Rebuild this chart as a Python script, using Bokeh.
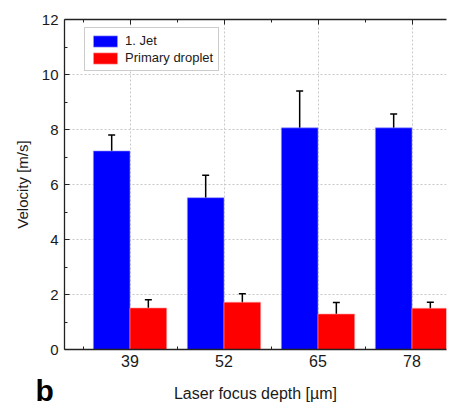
from bokeh.plotting import figure
from bokeh.models import (ColumnDataSource, Range1d, FixedTicker, LinearAxis, Whisker,
                          TeeHead, Legend, LegendItem, Label, CustomLabelingPolicy)
from bokeh.embed import file_html
from bokeh.resources import INLINE

# ---- data ----
depths = ["39", "52", "65", "78"]
jet = [7.22, 5.52, 8.06, 8.06]
jet_err = [0.58, 0.82, 1.34, 0.50]
droplet = [1.51, 1.72, 1.29, 1.50]
droplet_err = [0.30, 0.31, 0.42, 0.22]
y_ticks = [0, 2, 4, 6, 8, 10, 12]

FONT = "Liberation Sans"
TXT = "#1a1a1a"

pos = list(range(1, len(depths) + 1))
bw = 0.39
src_jet = ColumnDataSource(dict(
    x=[p - bw / 2 for p in pos], top=jet,
    upper=[v + e for v, e in zip(jet, jet_err)],
    lower=[v - e for v, e in zip(jet, jet_err)]))
src_drop = ColumnDataSource(dict(
    x=[p + bw / 2 for p in pos], top=droplet,
    upper=[v + e for v, e in zip(droplet, droplet_err)],
    lower=[v - e for v, e in zip(droplet, droplet_err)]))

p = figure(width=472, height=407, output_backend="svg", toolbar_location=None,
           x_range=Range1d(0.303, 4.367), y_range=Range1d(0, 12),
           min_border_left=64, min_border_top=19, min_border_bottom=58,
           min_border_right=26, y_axis_location=None, x_axis_location=None)
p.outline_line_color = None
p.background_fill_color = "white"
p.border_fill_color = "white"

xt = FixedTicker(ticks=pos, minor_ticks=[0.5 + i for i in range(len(pos) + 1)])
yt = FixedTicker(ticks=y_ticks, minor_ticks=[1, 3, 5, 7, 9, 11])

hide_all = CustomLabelingPolicy(code="for (const i of indices) indices.unset(i); return indices")

def style_axis(ax, labels=True):
    ax.axis_line_color = "#222222"
    ax.axis_line_width = 1.3
    ax.major_tick_line_color = "#222222"
    ax.minor_tick_line_color = "#222222"
    ax.major_tick_out = 0
    ax.major_tick_in = 5
    ax.minor_tick_out = 0
    ax.minor_tick_in = 3
    ax.major_label_text_font = FONT
    ax.major_label_text_color = TXT
    ax.axis_label_text_font = FONT
    ax.axis_label_text_color = TXT
    ax.axis_label_text_font_style = "normal"
    if not labels:
        ax.major_label_policy = hide_all
        ax.major_label_standoff = 0

xb = LinearAxis(ticker=xt, axis_label="Laser focus depth [µm]",
                major_label_overrides={p_: d for p_, d in zip(pos, depths)})
style_axis(xb)
xb.major_tick_in = 0
xb.major_label_text_font_size = "16px"
xb.axis_label_text_font_size = "16px"
xb.major_label_standoff = 5
xb.axis_label_standoff = 15
p.add_layout(xb, "below")

xtop = LinearAxis(ticker=xt)
style_axis(xtop, labels=False)
p.add_layout(xtop, "above")

yl = LinearAxis(ticker=yt, axis_label="Velocity [m/s]")
style_axis(yl)
yl.major_label_text_font_size = "15px"
yl.axis_label_text_font_size = "15px"
yl.major_label_standoff = 6
yl.axis_label_standoff = 8
p.add_layout(yl, "left")

p.xgrid.ticker = xt
p.ygrid.ticker = FixedTicker(ticks=[2, 4, 6, 8, 10])
for g in (p.xgrid, p.ygrid):
    g.grid_line_color = "#c8c8c8"
    g.grid_line_dash = "2 2"
    g.grid_line_width = 1

r_jet = p.vbar(x="x", top="top", width=bw, bottom=0, source=src_jet,
               fill_color="#0000ff", line_color="#9999ff", line_width=0.6)
r_drop = p.vbar(x="x", top="top", width=bw, bottom=0, source=src_drop,
                fill_color="#ff0000", line_color="#ff9999", line_width=0.6)

for s in (src_jet, src_drop):
    w = Whisker(source=s, base="x", upper="upper", lower="lower",
                line_color="black", line_width=1.5,
                upper_head=TeeHead(size=7, line_color="black", line_width=1.5),
                lower_head=TeeHead(size=7, line_color="black", line_width=1.5))
    p.add_layout(w)

legend = Legend(items=[LegendItem(label="1. Jet", renderers=[r_jet]),
                       LegendItem(label="Primary droplet", renderers=[r_drop])],
                location=(20, 278))
legend.label_text_font = FONT
legend.label_text_font_size = "13px"
legend.label_text_color = TXT
legend.glyph_width = 30
legend.glyph_height = 14
legend.label_height = 14
legend.spacing = 2
legend.padding = 5
legend.label_standoff = 5
legend.border_line_color = "#9a9a9a"
legend.border_line_width = 1
legend.background_fill_alpha = 1
p.add_layout(legend, "center")

p.add_layout(Label(x=35, y=390, x_units="canvas", y_units="canvas", text="b",
                   text_baseline="alphabetic",
                   text_font=FONT, text_font_size="30px", text_font_style="bold",
                   text_color="black"), "right")

open("out.html", "w").write(file_html(p, INLINE))
